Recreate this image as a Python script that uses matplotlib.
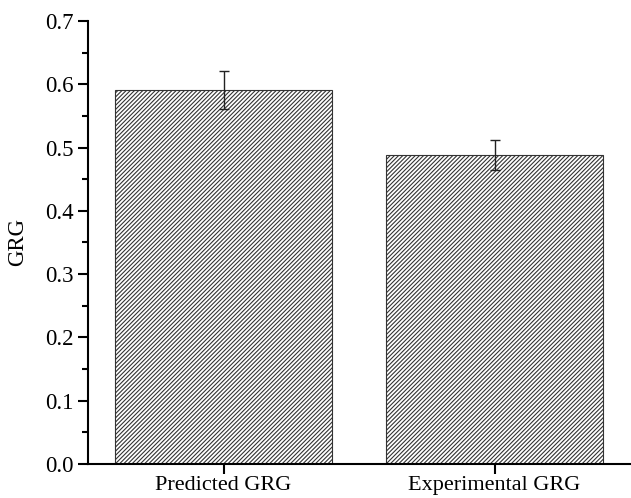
import numpy as np
import matplotlib
matplotlib.use("Agg")
from matplotlib import pyplot as plt
from matplotlib.ticker import MultipleLocator

categories = ["Predicted GRG", "Experimental GRG"]
values = [0.591, 0.488]
errors = [0.030, 0.024]

plt.rcParams["font.family"] = ["Liberation Serif", "DejaVu Serif"]
plt.rcParams["hatch.linewidth"] = 0.8
plt.rcParams["hatch.color"] = "#333333"

fig = plt.figure(figsize=(6.31, 4.98), dpi=100)
ax = fig.add_axes([0.1395, 0.0683, 0.859, 0.8897])

x = np.arange(len(categories))
ax.bar(x, values, width=0.8, color="white", edgecolor="#333333", linewidth=0.8, hatch="////////")
ax.errorbar(x, values, yerr=errors, fmt="none", ecolor="#222222", elinewidth=1.0, capsize=3.5, capthick=1.0)

ax.set_xlim(-0.5, 1.5)
ax.set_ylim(0, 0.7)
ax.set_xticks(x)
ax.set_xticklabels(categories, fontsize=16)
ax.yaxis.set_minor_locator(MultipleLocator(0.05))
ax.set_yticks(np.arange(0, 0.71, 0.1))
ax.set_yticklabels([f"{v:.1f}" for v in np.arange(0, 0.71, 0.1)], fontsize=16.5)
ax.set_ylabel("GRG", fontsize=16.5, labelpad=12)

ax.spines["top"].set_visible(False)
ax.spines["right"].set_visible(False)
ax.spines["left"].set_linewidth(1.5)
ax.spines["bottom"].set_linewidth(1.5)
ax.tick_params(axis="both", which="major", direction="out", length=7, width=1.5)
ax.tick_params(axis="x", which="major", pad=1.5)
ax.tick_params(axis="y", which="minor", direction="out", length=4, width=1.5)

fig.savefig("out.png", dpi=100)
